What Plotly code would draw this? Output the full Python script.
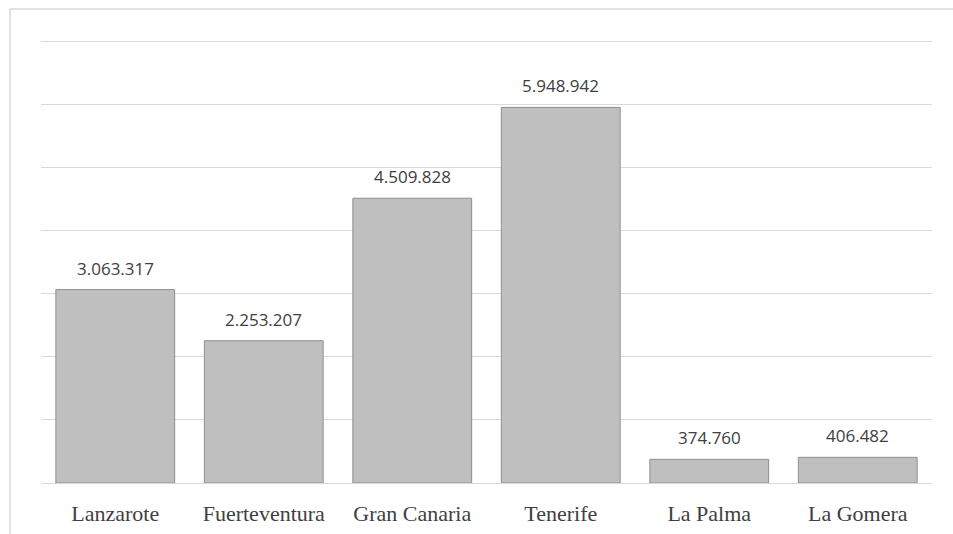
import plotly.graph_objects as go

islands = ["Lanzarote", "Fuerteventura", "Gran Canaria", "Tenerife", "La Palma", "La Gomera"]
values = [3063317, 2253207, 4509828, 5948942, 374760, 406482]
y_max = 7000000

def fmt(v):
    return f"{v:,}".replace(",", ".")

fig = go.Figure()
fig.add_trace(go.Bar(
    x=islands, y=values,
    marker=dict(color="#BFBFBF", line=dict(color="#8F8F8F", width=1)),
    hoverinfo="skip",
))

for isl, v in zip(islands, values):
    fig.add_annotation(x=isl, y=v, text=fmt(v), showarrow=False,
                       yanchor="bottom", yshift=8,
                       font=dict(family="Open Sans, Liberation Sans, sans-serif", size=17, color="#404040"))

fig.update_layout(
    width=953, height=534,
    margin=dict(l=41, r=21, t=41, b=51, autoexpand=False),
    paper_bgcolor="white", plot_bgcolor="white",
    bargap=0.2,
    showlegend=False,
    xaxis=dict(showgrid=False, zeroline=False, showline=False, ticks="",
               ticklabelstandoff=15, automargin=False,
               tickfont=dict(family="Liberation Serif, Times New Roman, serif", size=22, color="#404040")),
    yaxis=dict(range=[0, y_max], dtick=1000000, showticklabels=False,
               automargin=False,
               showgrid=True, gridcolor="#D9D9D9", gridwidth=1,
               zeroline=True, zerolinecolor="#D9D9D9", zerolinewidth=1, showline=False),
    shapes=[
        dict(type="line", xref="paper", yref="paper", x0=0, x1=1, y0=1 - 0.5/442, y1=1 - 0.5/442,
             line=dict(color="#D9D9D9", width=1), layer="below"),
        dict(type="line", xref="paper", yref="paper", x0=-31/891, x1=1 + 21/891,
             y0=1 + 32/442, y1=1 + 32/442, line=dict(color="#D9D9D9", width=1.5)),
        dict(type="line", xref="paper", yref="paper", x0=-31/891, x1=-31/891,
             y0=-51/442, y1=1 + 32/442, line=dict(color="#D9D9D9", width=1.5)),
    ],
)

fig.write_html("out.html")
